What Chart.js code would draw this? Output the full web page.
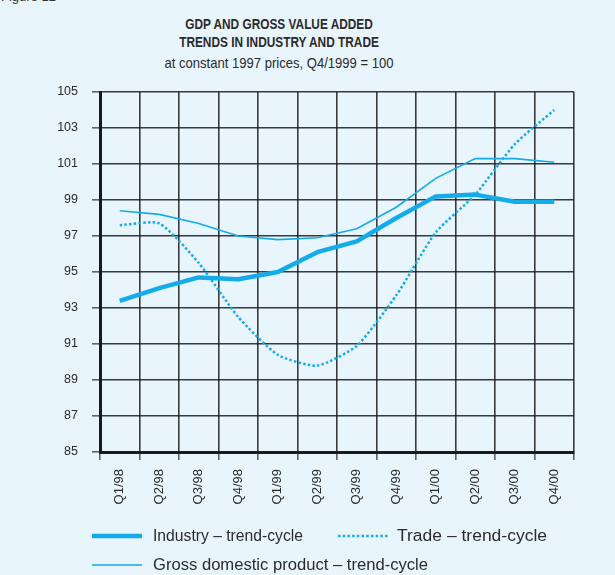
<!DOCTYPE html>
<html>
<head>
<meta charset="utf-8">
<script src="https://cdn.jsdelivr.net/npm/chart.js@4.4.1/dist/chart.umd.min.js"></script>
<style>
  html, body { margin: 0; padding: 0; background: #e9f5fd; }
  body { width: 615px; height: 575px; position: relative; overflow: hidden;
         font-family: "Liberation Sans", Arial, sans-serif; color: #2b2b2b; }
  #fig { position: absolute; left: 1px; top: -11px; font-size: 13px; color: #333; }
  .ttl { position: absolute; left: 0; width: 558px; text-align: center; transform-origin: 279px 0; }
  #t1 { top: 15px; font-weight: bold; font-size: 15px; line-height: 17.5px; transform: scaleX(0.79); }
  #t2 { top: 55px; font-size: 14.5px; transform: scaleX(0.9); }
  canvas { position: absolute; left: 0; top: 0; }
</style>
</head>
<body>
<div id="fig">Figure 12</div>
<div class="ttl" id="t1">GDP AND GROSS VALUE ADDED<br>TRENDS IN INDUSTRY AND TRADE</div>
<div class="ttl" id="t2">at constant 1997 prices, Q4/1999 = 100</div>
<canvas id="c" width="615" height="575"></canvas>
<script>
// Quarterly trend-cycle indices, Q4/1999 = 100
const quarters = ["Q1/98","Q2/98","Q3/98","Q4/98","Q1/99","Q2/99","Q3/99","Q4/99","Q1/00","Q2/00","Q3/00","Q4/00"];
const industry = [93.4, 94.1, 94.7, 94.6, 95.0, 96.1, 96.7, 98.0, 99.2, 99.3, 98.9, 98.9];
const trade    = [97.6, 97.7, 95.5, 92.5, 90.4, 89.8, 90.9, 93.7, 97.2, 99.3, 102.1, 104.0];
const gdp      = [98.4, 98.2, 97.7, 97.0, 96.8, 96.9, 97.4, 98.6, 100.2, 101.3, 101.3, 101.1];
const seriesNames = ["Industry \u2013 trend-cycle", "Trade \u2013 trend-cycle", "Gross domestic product \u2013 trend-cycle"];

const BLUE = "#14ace8";
const GRID = "rgba(25,25,25,0.85)";
const FONT = "'Liberation Sans', Arial, sans-serif";

// Legend laid out in two rows under the axis labels (w = text run width)
const legendSlots = [
  { ds: 0, x: 92,  y: 536, tx: 153, w: 150 },
  { ds: 1, x: 338, y: 536, tx: 397, w: 150 },
  { ds: 2, x: 92,  y: 565, tx: 153, w: 275 }
];

const bottomLegend = {
  id: "bottomLegend",
  afterDraw(chart) {
    const ctx = chart.ctx;
    legendSlots.forEach(s => {
      const d = chart.data.datasets[s.ds];
      ctx.save();
      ctx.beginPath();
      ctx.strokeStyle = d.borderColor;
      ctx.lineWidth = d.borderWidth;
      ctx.setLineDash(d.borderDash || []);
      ctx.lineCap = "butt";
      ctx.moveTo(s.x, s.y);
      ctx.lineTo(s.x + 50, s.y);
      ctx.stroke();
      ctx.setLineDash([]);
      ctx.fillStyle = "#2b2b2b";
      ctx.font = "16px " + FONT;
      ctx.textBaseline = "middle";
      ctx.textAlign = "left";
      const k = s.w / ctx.measureText(d.label).width;
      ctx.translate(s.tx, s.y + 1);
      ctx.scale(k, 1);
      ctx.fillText(d.label, 0, 0);
      ctx.restore();
    });
  }
};

new Chart(document.getElementById("c"), {
  type: "line",
  data: {
    labels: quarters,
    datasets: [
      { label: seriesNames[0], data: industry, borderColor: BLUE, borderWidth: 4.5,
        pointRadius: 0, tension: 0, borderJoinStyle: "round" },
      { label: seriesNames[1], data: trade, borderColor: BLUE, borderWidth: 2.5,
        borderDash: [2.5, 2.2], pointRadius: 0, tension: 0.2 },
      { label: seriesNames[2], data: gdp, borderColor: BLUE, borderWidth: 1.6,
        pointRadius: 0, tension: 0 }
    ]
  },
  options: {
    responsive: false,
    animation: false,
    devicePixelRatio: 1,
    layout: { padding: { top: 92, right: 41, bottom: 63, left: 0 } },
    plugins: { legend: { display: false }, title: { display: false }, tooltip: { enabled: false } },
    scales: {
      x: {
        type: "category",
        offset: true,
        grid: { offset: true, color: GRID, lineWidth: 1.6, tickLength: 8, tickColor: "rgba(60,60,60,0.8)" },
        border: { color: "#1a1a1a", width: 3 },
        ticks: { minRotation: 90, maxRotation: 90, padding: 9, color: "#2b2b2b",
                 font: { family: FONT, size: 13 } },
        afterFit(scale) { scale.height = 60; }
      },
      y: {
        min: 85, max: 105,
        grid: { color: GRID, lineWidth: 1.6, tickLength: 8, tickColor: "rgba(60,60,60,0.8)" },
        border: { color: "#1a1a1a", width: 3 },
        ticks: { stepSize: 2, padding: 14, color: "#2b2b2b", font: { family: FONT, size: 12.5 } },
        afterFit(scale) { scale.width = 100; }
      }
    }
  },
  plugins: [bottomLegend]
});
</script>
</body>
</html>
